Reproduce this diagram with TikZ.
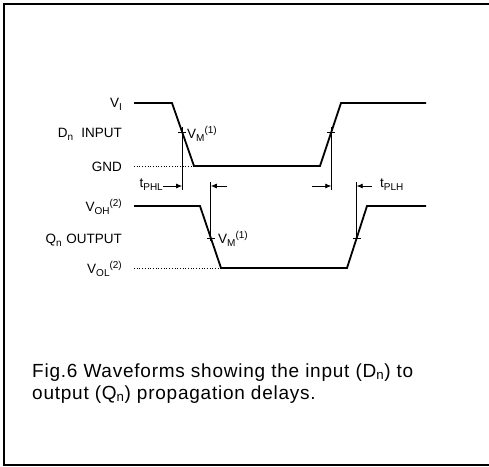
\documentclass[tikz,border=0pt]{standalone}
\usepackage{fontspec}
\setmainfont{Liberation Sans}
\newfontfamily\capfont[LetterSpace=4]{Liberation Sans}
\usetikzlibrary{arrows.meta,positioning,calc}
\newcommand\lo[1]{\raisebox{-3pt}{\fontsize{10}{10}\selectfont #1}}
\newcommand\hi[1]{\raisebox{5pt}{\fontsize{10}{10}\selectfont #1}}

\begin{document}
\begin{tikzpicture}[x=1pt,y=-1pt,>=Latex,
  wave/.style={line width=1.8pt,line join=miter},
  guide/.style={line width=0.8pt},
  dots/.style={dotted,line width=0.7pt},
  lbl/.style={font=\fontsize{13.5}{15}\selectfont,inner sep=0pt},
  captxt/.style={font=\capfont\fontsize{19}{22}\selectfont,inner sep=0pt,anchor=base west},
  dly/.style={line width=0.8pt,-{Latex[length=6pt,width=5pt]}}]
\useasboundingbox (0,0) rectangle (489,466);
\draw[line width=2.5pt] (489,4) -- (4,4) -- (4,465) -- (489,465);

% input waveform
\coordinate (i0) at (134,103);
\coordinate (i1) at (172,103);
\coordinate (i2) at (194,166);
\coordinate (i3) at (320,166);
\coordinate (i4) at (341,103);
\coordinate (i5) at (426,103);
\coordinate (ig) at (134,166);
\draw[wave] (i0) -- (i1) -- (i2) -- (i3) -- (i4) -- (i5);
\draw[dots] (ig) -- (i2);
\coordinate (im1) at ($(i1)!0.46!(i2)$);
\coordinate (im2) at ($(i3)!0.54!(i4)$);

% output waveform
\coordinate (o0) at (134,206);
\coordinate (o1) at (200,206);
\coordinate (o2) at (221,268);
\coordinate (o3) at (347,268);
\coordinate (o4) at (367,206);
\coordinate (o5) at (426,206);
\coordinate (og) at (134,268);
\draw[wave] (o0) -- (o1) -- (o2) -- (o3) -- (o4) -- (o5);
\draw[dots] (og) -- (o2);
\coordinate (om1) at ($(o1)!0.516!(o2)$);
\coordinate (om2) at ($(o3)!0.484!(o4)$);

% reference lines and ticks
\draw[guide] (im1 |- 0,127) -- (im1 |- 0,190);
\draw[guide] (im2 |- 0,127) -- (im2 |- 0,190);
\draw[guide] (om1 |- 0,182) -- (om1 |- 0,241);
\draw[guide] (om2 |- 0,182) -- (om2 |- 0,241);
\foreach \p in {im1,im2,om1,om2}
  \draw[guide] ([xshift=-4pt]\p) -- ([xshift=4pt]\p);

% level labels
\node[lbl,anchor=base east] (vi) at (122,107.5) {V\lo{I}};
\node[lbl,anchor=base east] (din) at (122,137) {D\lo{n}\hspace{0.6em}INPUT};
\node[lbl,anchor=base east] (gnd) at (122,171) {GND};
\node[lbl,anchor=base east] (voh) at (122,211) {V\lo{OH}\hi{(2)}};
\node[lbl,anchor=base east] (qout) at (122,243) {Q\lo{n}\hspace{0.35em}OUTPUT};
\node[lbl,anchor=base east] (vol) at (122,273) {V\lo{OL}\hi{(2)}};
\node[lbl,anchor=base west] (vm1) at (187,138) {V\lo{M}\hi{(1)}};
\node[lbl,anchor=base west] (vm2) at (218,243) {V\lo{M}\hi{(1)}};

% propagation delays
\node[lbl,anchor=base east] (tphl) at (163,187) {t\lo{PHL}};
\node[lbl,anchor=base west] (tplh) at (380,187) {t\lo{PLH}};
\coordinate (phlb) at (227,186);
\coordinate (plha) at (312,186);
\draw[dly] (tphl.east |- 0,186) -- (im1 |- 0,186);
\draw[dly] (phlb) -- (om1 |- 0,186);
\draw[dly] (plha) -- (im2 |- 0,186);
\draw[dly] ([xshift=-8pt]tplh.west |- 0,186) -- (om2 |- 0,186);

% caption
\node[captxt] (cap1) at (32,377) {Fig.6 Waveforms showing the input (D\textsubscript{n}) to};
\node[captxt] (cap2) at (32,399) {output (Q\textsubscript{n}) propagation delays.};
\end{tikzpicture}
\end{document}
